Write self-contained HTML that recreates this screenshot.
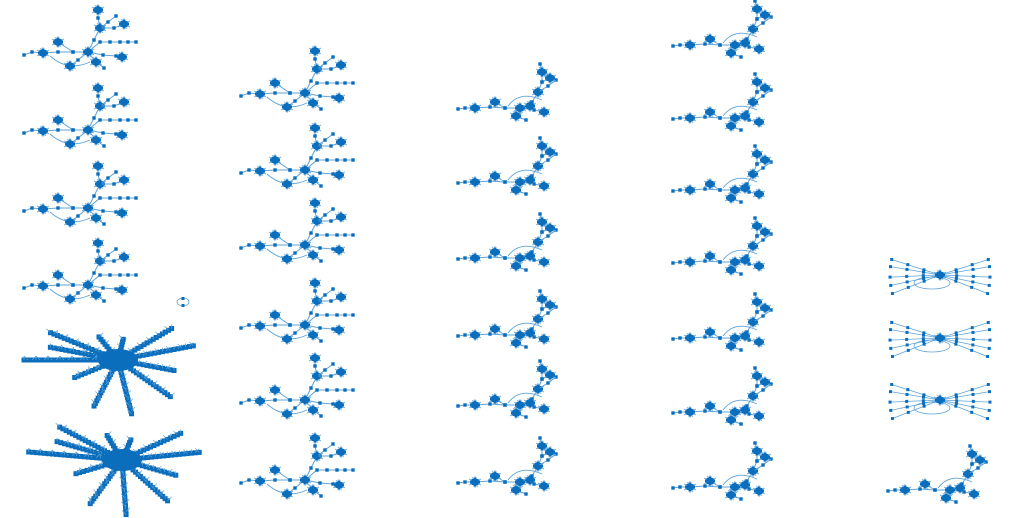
<!DOCTYPE html>
<html><head><meta charset="utf-8"><style>
html,body{margin:0;padding:0;background:#fff;width:1014px;height:518px;overflow:hidden}
svg{display:block}
</style></head><body>
<svg id="chart" width="1014" height="518" viewBox="0 0 1014 518"></svg>
<script>
const hubX = [88,88,88,88, 305,305,305,305,305,305];
const hubY = [52,130,208,285, 93,170,245,325,400,480];
const hubBX = [520,520,520,520,520,520, 735,735,735,735,735,735,735, 950];
const hubBY = [108,182,258,335,405,482, 45,118,190,262,338,412,487, 490];
const fanX = [940,940,940];
const fanY = [275,338,400];
const starX = [118,122];
const starY = [360,460];
const C = "#0a6ebd", E = "#5fa3d8";
const svg = document.getElementById('chart');
const NS = "http://www.w3.org/2000/svg";
function el(t,a,p){const e=document.createElementNS(NS,t);for(const k in a)e.setAttribute(k,a[k]);(p||svg).appendChild(e);return e;}
const chainsA = [
 [[0,0],[-15,0],[-30,0],[-45,1,1],[-56,0],[-64,3]],
 [[-15,0],[-30,-10,1]],
 [[0,0],[6,-12],[12,-24,1],[10,-34],[10,-42,1]],
 [[12,-24],[20,-30],[28,-36]],
 [[0,0],[12,-10],[22,-10],[32,-10],[40,-10],[48,-10]],
 [[12,-24],[26,-24],[36,-28,1]],
 [[0,0],[15,3],[28,4],[34,5,1]],
 [[0,0],[8,10,1],[16,16]],
 [[0,0],[-10,8],[-18,14,1]]
];
const chainsB = [
 [[0,0],[-15,0],[-30,-1],[-45,0,1],[-55,0],[-62,1]],
 [[-15,0],[-25,-6,1]],
 [[0,0],[12,-6],[18,-16,1],[22,-26],[22,-36,1],[20,-44]],
 [[18,-16],[28,-22],[36,-28]],
 [[22,-26],[30,-30,1]],
 [[0,0],[14,2],[24,4,1]],
 [[0,0],[-4,8,1],[6,12]],
 [[0,0],[10,-2,1]]
];
function cluster(g,x,y){
  [[-6,-3],[6,-3],[-6,3],[6,3],[0,-6],[0,6],[-3,-5],[3,5]].forEach(o=>el('line',{x1:x,y1:y,x2:x+o[0],y2:y+o[1],stroke:E,'stroke-width':0.7},g));
  const offs=[[0,0],[-2,-1.5],[2,-1.5],[-2,1.5],[2,1.5],[0,-3],[0,3],[-3.5,0],[3.5,0]];
  offs.forEach(o=>el('rect',{x:x+o[0]-1.5,y:y+o[1]-1.5,width:3,height:3,fill:C},g));
}
function drawGraph(x,y,chains,loop){
  const g=el('g',{transform:`translate(${x},${y})`});
  
  
  el('path',{d:loop,fill:'none',stroke:E,'stroke-width':0.9},g);
  chains.forEach(ch=>{
    el('polyline',{points:ch.map(p=>p[0]+','+p[1]).join(' '),fill:'none',stroke:E,'stroke-width':1},g);
    ch.forEach(p=>{ if(p[2]) cluster(g,p[0],p[1]); else el('rect',{x:p[0]-1.7,y:p[1]-1.7,width:3.4,height:3.4,fill:C},g);});
  });
  cluster(g,0,0);
}
for(let i=0;i<hubX.length;i++) drawGraph(hubX[i],hubY[i],chainsA,'M-38,4 Q-20,20 2,10');
for(let i=0;i<hubBX.length;i++) drawGraph(hubBX[i],hubBY[i],chainsB,'M-12,-2 Q0,-18 22,-8');
const fanAng=[-165,-172,178,170,162,-15,-8,2,10,18];
function drawFan(i){
  const g=el('g',{transform:`translate(${fanX[i]},${fanY[i]})`});
  
  
  el('ellipse',{cx:-8,cy:8,rx:18,ry:6,fill:'none',stroke:E,'stroke-width':0.8},g);
  fanAng.forEach(a=>{
    const r=a*Math.PI/180,L=50;
    el('line',{x1:0,y1:0,x2:L*Math.cos(r),y2:L*Math.sin(r)*1.2,stroke:E,'stroke-width':0.8},g);
    for(let k=1;k<=3;k++) el('rect',{x:L*k/3*Math.cos(r)-1.5,y:L*k/3*Math.sin(r)*1.2-1.5,width:3,height:3,fill:C},g);
  });
  cluster(g,0,0);
}
for(let i=0;i<fanX.length;i++) drawFan(i);
const starAng=[-165,-150,-120,-80,-40,-15,15,45,80,110,150,180];
const starLen=[72,80,40,30,70,80,60,75,80,70,50,95];
function drawStar(i){
  const g=el('g',{transform:`translate(${starX[i]},${starY[i]})`});
  
  
  starAng.forEach((a,j)=>{
    const r=(a+i*7)*Math.PI/180,L=starLen[j];
    el('line',{x1:0,y1:0,x2:L*Math.cos(r),y2:L*0.7*Math.sin(r),stroke:C,'stroke-width':3},g);
    for(let k=6;k<=L;k+=4){
      const w=(k%4)+3;
      el('rect',{x:k*Math.cos(r)-w/2,y:k*0.7*Math.sin(r)-w/2,width:w,height:w,fill:C},g);
      el('line',{x1:k*Math.cos(r),y1:k*0.7*Math.sin(r),x2:k*Math.cos(r)+(k%3-1)*4,y2:k*0.7*Math.sin(r)-4,stroke:E,'stroke-width':0.7},g);
    }
  });
  el('ellipse',{cx:0,cy:0,rx:20,ry:11,fill:C},g);
}
for(let i=0;i<starX.length;i++) drawStar(i);
const tiny=el('g',{transform:'translate(183,302)'});


el('ellipse',{cx:0,cy:0,rx:6,ry:4,fill:'none',stroke:E,'stroke-width':0.8},tiny);
el('rect',{x:-1.5,y:-5,width:3,height:3,fill:C},tiny);
el('rect',{x:-1.5,y:2,width:3,height:3,fill:C},tiny);
</script>
</body></html>
